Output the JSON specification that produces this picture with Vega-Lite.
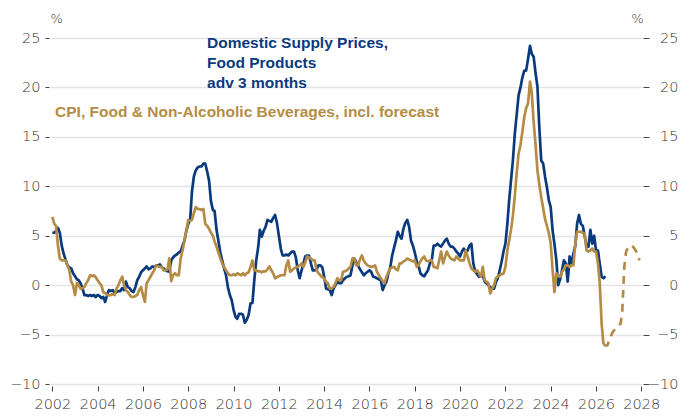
{
"$schema": "https://vega.github.io/schema/vega-lite/v6.json",
"width": 592,
"height": 346,
"autosize": {"type": "none"},
"padding": {"left": 50, "top": 38, "right": 55, "bottom": 34},
"background": "white",
"config": {"view": {"stroke": null}},
"datasets": {
"supply": [
{"month":"2002-01","value":5.3},{"month":"2002-02","value":5.3},{"month":"2002-03","value":5.5},{"month":"2002-04","value":5.8},{"month":"2002-05","value":5.3},{"month":"2002-06","value":4.0},{"month":"2002-07","value":3.2},{"month":"2002-08","value":2.6},{"month":"2002-09","value":2.0},{"month":"2002-10","value":1.8},{"month":"2002-11","value":1.7},{"month":"2002-12","value":1.2},
{"month":"2003-01","value":0.9},{"month":"2003-02","value":0.6},{"month":"2003-03","value":0.5},{"month":"2003-04","value":0.2},{"month":"2003-05","value":-0.3},{"month":"2003-06","value":-1.0},{"month":"2003-07","value":-1.0},{"month":"2003-08","value":-1.1},{"month":"2003-09","value":-1.0},{"month":"2003-10","value":-1.1},{"month":"2003-11","value":-1.0},{"month":"2003-12","value":-1.2},
{"month":"2004-01","value":-1.0},{"month":"2004-02","value":-1.1},{"month":"2004-03","value":-1.3},{"month":"2004-04","value":-1.2},{"month":"2004-05","value":-1.7},{"month":"2004-06","value":-1.0},{"month":"2004-07","value":-0.5},{"month":"2004-08","value":-0.6},{"month":"2004-09","value":-0.5},{"month":"2004-10","value":-0.8},{"month":"2004-11","value":-0.7},{"month":"2004-12","value":-0.6},
{"month":"2005-01","value":-0.6},{"month":"2005-02","value":-0.3},{"month":"2005-03","value":-0.5},{"month":"2005-04","value":0.35},{"month":"2005-05","value":-0.2},{"month":"2005-06","value":-0.3},{"month":"2005-07","value":-0.6},{"month":"2005-08","value":-0.7},{"month":"2005-09","value":-0.2},{"month":"2005-10","value":0.5},{"month":"2005-11","value":0.85},{"month":"2005-12","value":1.3},
{"month":"2006-01","value":1.5},{"month":"2006-02","value":1.7},{"month":"2006-03","value":1.9},{"month":"2006-04","value":1.6},{"month":"2006-05","value":1.7},{"month":"2006-06","value":1.9},{"month":"2006-07","value":1.8},{"month":"2006-08","value":2.0},{"month":"2006-09","value":2.0},{"month":"2006-10","value":2.1},{"month":"2006-11","value":1.8},{"month":"2006-12","value":1.7},
{"month":"2007-01","value":1.5},{"month":"2007-02","value":1.4},{"month":"2007-03","value":1.35},{"month":"2007-04","value":2.5},{"month":"2007-05","value":2.8},{"month":"2007-06","value":3.0},{"month":"2007-07","value":3.1},{"month":"2007-08","value":3.3},{"month":"2007-09","value":3.4},{"month":"2007-10","value":4.0},{"month":"2007-11","value":4.5},{"month":"2007-12","value":5.5},
{"month":"2008-01","value":6.2},{"month":"2008-02","value":6.6},{"month":"2008-03","value":9.5},{"month":"2008-04","value":11.0},{"month":"2008-05","value":11.6},{"month":"2008-06","value":11.9},{"month":"2008-07","value":12.0},{"month":"2008-08","value":12.0},{"month":"2008-09","value":12.3},{"month":"2008-10","value":12.3},{"month":"2008-11","value":11.5},{"month":"2008-12","value":10.6},
{"month":"2009-01","value":8.5},{"month":"2009-02","value":7.6},{"month":"2009-03","value":7.5},{"month":"2009-04","value":5.6},{"month":"2009-05","value":4.5},{"month":"2009-06","value":3.3},{"month":"2009-07","value":2.5},{"month":"2009-08","value":1.7},{"month":"2009-09","value":1.0},{"month":"2009-10","value":-0.2},{"month":"2009-11","value":-1.0},{"month":"2009-12","value":-1.5},
{"month":"2010-01","value":-2.5},{"month":"2010-02","value":-3.2},{"month":"2010-03","value":-3.4},{"month":"2010-04","value":-2.9},{"month":"2010-05","value":-2.9},{"month":"2010-06","value":-3.0},{"month":"2010-07","value":-3.8},{"month":"2010-08","value":-3.5},{"month":"2010-09","value":-3.0},{"month":"2010-10","value":-1.85},{"month":"2010-11","value":-1.8},{"month":"2010-12","value":0.5},
{"month":"2011-01","value":2.5},{"month":"2011-02","value":3.8},{"month":"2011-03","value":5.6},{"month":"2011-04","value":4.9},{"month":"2011-05","value":5.5},{"month":"2011-06","value":5.9},{"month":"2011-07","value":6.6},{"month":"2011-08","value":6.5},{"month":"2011-09","value":6.4},{"month":"2011-10","value":6.8},{"month":"2011-11","value":7.1},{"month":"2011-12","value":6.3},
{"month":"2012-01","value":5.0},{"month":"2012-02","value":3.7},{"month":"2012-03","value":3.0},{"month":"2012-04","value":3.0},{"month":"2012-05","value":3.1},{"month":"2012-06","value":3.0},{"month":"2012-07","value":3.2},{"month":"2012-08","value":3.4},{"month":"2012-09","value":3.4},{"month":"2012-10","value":2.8},{"month":"2012-11","value":1.5},{"month":"2012-12","value":0.7},
{"month":"2013-01","value":1.5},{"month":"2013-02","value":2.2},{"month":"2013-03","value":2.9},{"month":"2013-04","value":3.0},{"month":"2013-05","value":3.0},{"month":"2013-06","value":2.2},{"month":"2013-07","value":1.5},{"month":"2013-08","value":1.5},{"month":"2013-09","value":1.6},{"month":"2013-10","value":2.0},{"month":"2013-11","value":2.0},{"month":"2013-12","value":1.8},
{"month":"2014-01","value":0.85},{"month":"2014-02","value":-0.35},{"month":"2014-03","value":-0.4},{"month":"2014-04","value":-0.5},{"month":"2014-05","value":-1.0},{"month":"2014-06","value":-0.35},{"month":"2014-07","value":0.0},{"month":"2014-08","value":0.35},{"month":"2014-09","value":0.2},{"month":"2014-10","value":0.2},{"month":"2014-11","value":0.5},{"month":"2014-12","value":0.7},
{"month":"2015-01","value":0.85},{"month":"2015-02","value":0.9},{"month":"2015-03","value":1.0},{"month":"2015-04","value":2.0},{"month":"2015-05","value":2.7},{"month":"2015-06","value":2.3},{"month":"2015-07","value":2.0},{"month":"2015-08","value":1.6},{"month":"2015-09","value":1.3},{"month":"2015-10","value":1.0},{"month":"2015-11","value":1.2},{"month":"2015-12","value":1.35},
{"month":"2016-01","value":1.5},{"month":"2016-02","value":1.3},{"month":"2016-03","value":0.85},{"month":"2016-04","value":0.8},{"month":"2016-05","value":0.7},{"month":"2016-06","value":0.6},{"month":"2016-07","value":0.5},{"month":"2016-08","value":-0.5},{"month":"2016-09","value":0.0},{"month":"2016-10","value":0.35},{"month":"2016-11","value":1.2},{"month":"2016-12","value":1.8},
{"month":"2017-01","value":3.0},{"month":"2017-02","value":3.8},{"month":"2017-03","value":4.5},{"month":"2017-04","value":5.4},{"month":"2017-05","value":5.0},{"month":"2017-06","value":4.7},{"month":"2017-07","value":5.7},{"month":"2017-08","value":6.3},{"month":"2017-09","value":6.6},{"month":"2017-10","value":5.9},{"month":"2017-11","value":4.5},{"month":"2017-12","value":4.0},
{"month":"2018-01","value":3.3},{"month":"2018-02","value":2.4},{"month":"2018-03","value":2.0},{"month":"2018-04","value":1.2},{"month":"2018-05","value":1.0},{"month":"2018-06","value":0.9},{"month":"2018-07","value":1.2},{"month":"2018-08","value":1.5},{"month":"2018-09","value":2.2},{"month":"2018-10","value":2.5},{"month":"2018-11","value":4.0},{"month":"2018-12","value":4.0},
{"month":"2019-01","value":4.2},{"month":"2019-02","value":4.0},{"month":"2019-03","value":3.9},{"month":"2019-04","value":4.2},{"month":"2019-05","value":4.5},{"month":"2019-06","value":4.7},{"month":"2019-07","value":4.2},{"month":"2019-08","value":3.9},{"month":"2019-09","value":3.9},{"month":"2019-10","value":3.7},{"month":"2019-11","value":3.4},{"month":"2019-12","value":3.2},
{"month":"2020-01","value":2.9},{"month":"2020-02","value":3.4},{"month":"2020-03","value":3.7},{"month":"2020-04","value":3.4},{"month":"2020-05","value":3.5},{"month":"2020-06","value":4.0},{"month":"2020-07","value":4.2},{"month":"2020-08","value":2.2},{"month":"2020-09","value":1.35},{"month":"2020-10","value":1.1},{"month":"2020-11","value":0.85},{"month":"2020-12","value":0.9},
{"month":"2021-01","value":1.0},{"month":"2021-02","value":0.35},{"month":"2021-03","value":0.2},{"month":"2021-04","value":0.0},{"month":"2021-05","value":-0.2},{"month":"2021-06","value":-0.35},{"month":"2021-07","value":-0.35},{"month":"2021-08","value":0.3},{"month":"2021-09","value":0.7},{"month":"2021-10","value":1.5},{"month":"2021-11","value":2.4},{"month":"2021-12","value":3.4},
{"month":"2022-01","value":4.2},{"month":"2022-02","value":6.2},{"month":"2022-03","value":8.5},{"month":"2022-04","value":10.6},{"month":"2022-05","value":12.6},{"month":"2022-06","value":15.3},{"month":"2022-07","value":17.2},{"month":"2022-08","value":19.2},{"month":"2022-09","value":20.0},{"month":"2022-10","value":21.0},{"month":"2022-11","value":21.7},{"month":"2022-12","value":21.7},
{"month":"2023-01","value":22.9},{"month":"2023-02","value":24.2},{"month":"2023-03","value":23.4},{"month":"2023-04","value":23.1},{"month":"2023-05","value":21.5},{"month":"2023-06","value":20.1},{"month":"2023-07","value":16.0},{"month":"2023-08","value":12.6},{"month":"2023-09","value":12.3},{"month":"2023-10","value":11.0},{"month":"2023-11","value":9.9},{"month":"2023-12","value":8.6},
{"month":"2024-01","value":7.9},{"month":"2024-02","value":5.5},{"month":"2024-03","value":4.2},{"month":"2024-04","value":2.5},{"month":"2024-05","value":0.0},{"month":"2024-06","value":0.6},{"month":"2024-07","value":1.5},{"month":"2024-08","value":2.5},{"month":"2024-09","value":2.2},{"month":"2024-10","value":0.35},{"month":"2024-11","value":2.9},{"month":"2024-12","value":2.2},
{"month":"2025-01","value":3.2},{"month":"2025-02","value":4.0},{"month":"2025-03","value":6.2},{"month":"2025-04","value":7.1},{"month":"2025-05","value":6.2},{"month":"2025-06","value":6.0},{"month":"2025-07","value":5.0},{"month":"2025-08","value":3.9},{"month":"2025-09","value":3.9},{"month":"2025-10","value":5.6},{"month":"2025-11","value":4.2},{"month":"2025-12","value":5.0},
{"month":"2026-01","value":3.5},{"month":"2026-02","value":3.5},{"month":"2026-03","value":2.2},{"month":"2026-04","value":0.85},{"month":"2026-05","value":0.7},{"month":"2026-06","value":0.9}
],
"cpi": [
{"month":"2002-01","value":6.9},{"month":"2002-02","value":6.2},{"month":"2002-03","value":6.0},{"month":"2002-04","value":4.0},{"month":"2002-05","value":2.7},{"month":"2002-06","value":2.5},{"month":"2002-07","value":2.5},{"month":"2002-08","value":2.5},{"month":"2002-09","value":2.0},{"month":"2002-10","value":1.5},{"month":"2002-11","value":0.35},{"month":"2002-12","value":0.0},
{"month":"2003-01","value":-1.0},{"month":"2003-02","value":0.2},{"month":"2003-03","value":0.0},{"month":"2003-04","value":-0.35},{"month":"2003-05","value":-0.3},{"month":"2003-06","value":-0.2},{"month":"2003-07","value":0.2},{"month":"2003-08","value":0.5},{"month":"2003-09","value":1.0},{"month":"2003-10","value":0.9},{"month":"2003-11","value":1.0},{"month":"2003-12","value":0.8},
{"month":"2004-01","value":0.5},{"month":"2004-02","value":0.2},{"month":"2004-03","value":0.0},{"month":"2004-04","value":-0.7},{"month":"2004-05","value":-0.8},{"month":"2004-06","value":-1.0},{"month":"2004-07","value":-1.0},{"month":"2004-08","value":-1.0},{"month":"2004-09","value":-0.9},{"month":"2004-10","value":-1.0},{"month":"2004-11","value":-0.35},{"month":"2004-12","value":0.0},
{"month":"2005-01","value":0.5},{"month":"2005-02","value":0.85},{"month":"2005-03","value":0.0},{"month":"2005-04","value":-0.5},{"month":"2005-05","value":-0.7},{"month":"2005-06","value":-1.0},{"month":"2005-07","value":-1.2},{"month":"2005-08","value":-1.2},{"month":"2005-09","value":-1.1},{"month":"2005-10","value":-1.0},{"month":"2005-11","value":-0.5},{"month":"2005-12","value":-0.2},
{"month":"2006-01","value":-1.0},{"month":"2006-02","value":-1.7},{"month":"2006-03","value":0.2},{"month":"2006-04","value":0.5},{"month":"2006-05","value":0.85},{"month":"2006-06","value":1.2},{"month":"2006-07","value":1.5},{"month":"2006-08","value":2.0},{"month":"2006-09","value":1.9},{"month":"2006-10","value":1.85},{"month":"2006-11","value":1.85},{"month":"2006-12","value":1.5},
{"month":"2007-01","value":1.5},{"month":"2007-02","value":1.6},{"month":"2007-03","value":2.7},{"month":"2007-04","value":0.4},{"month":"2007-05","value":1.0},{"month":"2007-06","value":1.2},{"month":"2007-07","value":1.0},{"month":"2007-08","value":1.0},{"month":"2007-09","value":2.7},{"month":"2007-10","value":3.5},{"month":"2007-11","value":4.5},{"month":"2007-12","value":5.5},
{"month":"2008-01","value":6.6},{"month":"2008-02","value":6.5},{"month":"2008-03","value":6.6},{"month":"2008-04","value":7.3},{"month":"2008-05","value":7.9},{"month":"2008-06","value":7.7},{"month":"2008-07","value":7.7},{"month":"2008-08","value":7.6},{"month":"2008-09","value":7.7},{"month":"2008-10","value":6.2},{"month":"2008-11","value":6.0},{"month":"2008-12","value":5.7},
{"month":"2009-01","value":5.3},{"month":"2009-02","value":5.0},{"month":"2009-03","value":4.4},{"month":"2009-04","value":3.9},{"month":"2009-05","value":3.3},{"month":"2009-06","value":2.7},{"month":"2009-07","value":2.2},{"month":"2009-08","value":1.8},{"month":"2009-09","value":1.5},{"month":"2009-10","value":1.2},{"month":"2009-11","value":1.0},{"month":"2009-12","value":1.0},
{"month":"2010-01","value":1.1},{"month":"2010-02","value":1.0},{"month":"2010-03","value":1.2},{"month":"2010-04","value":1.1},{"month":"2010-05","value":1.0},{"month":"2010-06","value":1.2},{"month":"2010-07","value":1.0},{"month":"2010-08","value":1.2},{"month":"2010-09","value":1.3},{"month":"2010-10","value":1.85},{"month":"2010-11","value":2.5},{"month":"2010-12","value":1.5},
{"month":"2011-01","value":1.5},{"month":"2011-02","value":1.4},{"month":"2011-03","value":1.4},{"month":"2011-04","value":1.3},{"month":"2011-05","value":1.4},{"month":"2011-06","value":1.4},{"month":"2011-07","value":1.6},{"month":"2011-08","value":1.9},{"month":"2011-09","value":1.5},{"month":"2011-10","value":1.2},{"month":"2011-11","value":0.7},{"month":"2011-12","value":0.8},
{"month":"2012-01","value":0.9},{"month":"2012-02","value":1.0},{"month":"2012-03","value":1.0},{"month":"2012-04","value":1.0},{"month":"2012-05","value":2.0},{"month":"2012-06","value":2.5},{"month":"2012-07","value":1.35},{"month":"2012-08","value":1.5},{"month":"2012-09","value":1.7},{"month":"2012-10","value":1.8},{"month":"2012-11","value":1.85},{"month":"2012-12","value":2.0},
{"month":"2013-01","value":2.2},{"month":"2013-02","value":1.85},{"month":"2013-03","value":2.3},{"month":"2013-04","value":2.9},{"month":"2013-05","value":2.8},{"month":"2013-06","value":2.7},{"month":"2013-07","value":2.5},{"month":"2013-08","value":2.5},{"month":"2013-09","value":1.5},{"month":"2013-10","value":1.2},{"month":"2013-11","value":1.0},{"month":"2013-12","value":0.8},
{"month":"2014-01","value":0.7},{"month":"2014-02","value":0.3},{"month":"2014-03","value":0.2},{"month":"2014-04","value":-0.35},{"month":"2014-05","value":-0.3},{"month":"2014-06","value":-0.2},{"month":"2014-07","value":0.2},{"month":"2014-08","value":0.7},{"month":"2014-09","value":0.5},{"month":"2014-10","value":0.5},{"month":"2014-11","value":1.35},{"month":"2014-12","value":1.4},
{"month":"2015-01","value":1.5},{"month":"2015-02","value":1.7},{"month":"2015-03","value":1.85},{"month":"2015-04","value":2.7},{"month":"2015-05","value":2.7},{"month":"2015-06","value":2.0},{"month":"2015-07","value":2.0},{"month":"2015-08","value":2.6},{"month":"2015-09","value":3.0},{"month":"2015-10","value":2.5},{"month":"2015-11","value":2.2},{"month":"2015-12","value":2.0},
{"month":"2016-01","value":1.9},{"month":"2016-02","value":1.85},{"month":"2016-03","value":1.9},{"month":"2016-04","value":2.0},{"month":"2016-05","value":1.35},{"month":"2016-06","value":1.0},{"month":"2016-07","value":0.7},{"month":"2016-08","value":0.4},{"month":"2016-09","value":0.2},{"month":"2016-10","value":0.85},{"month":"2016-11","value":1.3},{"month":"2016-12","value":1.7},
{"month":"2017-01","value":1.8},{"month":"2017-02","value":1.85},{"month":"2017-03","value":1.6},{"month":"2017-04","value":1.5},{"month":"2017-05","value":2.2},{"month":"2017-06","value":2.2},{"month":"2017-07","value":2.4},{"month":"2017-08","value":2.5},{"month":"2017-09","value":2.7},{"month":"2017-10","value":2.6},{"month":"2017-11","value":2.5},{"month":"2017-12","value":2.4},
{"month":"2018-01","value":2.5},{"month":"2018-02","value":1.85},{"month":"2018-03","value":2.0},{"month":"2018-04","value":2.4},{"month":"2018-05","value":2.7},{"month":"2018-06","value":2.9},{"month":"2018-07","value":2.5},{"month":"2018-08","value":2.4},{"month":"2018-09","value":2.5},{"month":"2018-10","value":2.5},{"month":"2018-11","value":1.85},{"month":"2018-12","value":1.8},
{"month":"2019-01","value":1.7},{"month":"2019-02","value":2.6},{"month":"2019-03","value":3.4},{"month":"2019-04","value":2.2},{"month":"2019-05","value":2.8},{"month":"2019-06","value":3.4},{"month":"2019-07","value":3.0},{"month":"2019-08","value":2.7},{"month":"2019-09","value":2.6},{"month":"2019-10","value":2.5},{"month":"2019-11","value":2.9},{"month":"2019-12","value":2.7},
{"month":"2020-01","value":2.5},{"month":"2020-02","value":2.5},{"month":"2020-03","value":2.5},{"month":"2020-04","value":3.5},{"month":"2020-05","value":2.9},{"month":"2020-06","value":2.2},{"month":"2020-07","value":1.7},{"month":"2020-08","value":1.5},{"month":"2020-09","value":1.35},{"month":"2020-10","value":1.5},{"month":"2020-11","value":1.2},{"month":"2020-12","value":0.85},
{"month":"2021-01","value":1.85},{"month":"2021-02","value":0.5},{"month":"2021-03","value":0.35},{"month":"2021-04","value":0.2},{"month":"2021-05","value":-0.85},{"month":"2021-06","value":-0.35},{"month":"2021-07","value":0.0},{"month":"2021-08","value":0.7},{"month":"2021-09","value":0.9},{"month":"2021-10","value":1.0},{"month":"2021-11","value":1.1},{"month":"2021-12","value":1.2},
{"month":"2022-01","value":1.85},{"month":"2022-02","value":3.5},{"month":"2022-03","value":4.5},{"month":"2022-04","value":5.6},{"month":"2022-05","value":7.0},{"month":"2022-06","value":9.0},{"month":"2022-07","value":11.3},{"month":"2022-08","value":13.3},{"month":"2022-09","value":14.2},{"month":"2022-10","value":15.5},{"month":"2022-11","value":17.0},{"month":"2022-12","value":17.9},
{"month":"2023-01","value":18.4},{"month":"2023-02","value":20.6},{"month":"2023-03","value":19.5},{"month":"2023-04","value":16.5},{"month":"2023-05","value":14.3},{"month":"2023-06","value":11.6},{"month":"2023-07","value":10.2},{"month":"2023-08","value":8.9},{"month":"2023-09","value":7.8},{"month":"2023-10","value":6.7},{"month":"2023-11","value":6.0},{"month":"2023-12","value":5.3},
{"month":"2024-01","value":4.2},{"month":"2024-02","value":1.5},{"month":"2024-03","value":-0.7},{"month":"2024-04","value":1.2},{"month":"2024-05","value":0.9},{"month":"2024-06","value":0.85},{"month":"2024-07","value":1.35},{"month":"2024-08","value":1.6},{"month":"2024-09","value":2.0},{"month":"2024-10","value":2.0},{"month":"2024-11","value":1.85},{"month":"2024-12","value":2.0},
{"month":"2025-01","value":2.0},{"month":"2025-02","value":4.2},{"month":"2025-03","value":5.4},{"month":"2025-04","value":5.4},{"month":"2025-05","value":5.4},{"month":"2025-06","value":5.3},{"month":"2025-07","value":5.2},{"month":"2025-08","value":3.5},{"month":"2025-09","value":3.4},{"month":"2025-10","value":3.5},{"month":"2025-11","value":3.7},{"month":"2025-12","value":3.4},
{"month":"2026-01","value":3.4},{"month":"2026-02","value":2.2},{"month":"2026-03","value":0.3},{"month":"2026-04","value":-3.9},{"month":"2026-05","value":-6.0}
],
"forecast": [
{"month":"2026-05","value":-6.0},{"month":"2026-06","value":-6.1},{"month":"2026-07","value":-6.1},{"month":"2026-08","value":-5.6},{"month":"2026-09","value":-5.1},{"month":"2026-10","value":-4.7},{"month":"2026-11","value":-4.5},{"month":"2026-12","value":-4.3},
{"month":"2027-01","value":-4.1},{"month":"2027-02","value":-3.9},{"month":"2027-03","value":-2.5},{"month":"2027-04","value":1.8},{"month":"2027-05","value":3.4},{"month":"2027-06","value":3.8},{"month":"2027-07","value":4.0},{"month":"2027-08","value":4.0},{"month":"2027-09","value":3.8},{"month":"2027-10","value":3.5},{"month":"2027-11","value":3.2},{"month":"2027-12","value":2.5}
],
"supplyLabel": [{"month":"2008-10-30","value":23.94,"label":["Domestic Supply Prices,","Food Products","adv 3 months"]}],
"cpiLabel": [{"month":"2002-02-14","value":17.02,"label":"CPI, Food & Non-Alcoholic Beverages, incl. forecast"}]
},
"encoding": {
"x": {"field": "month", "type": "temporal",
"scale": {"domain": [{"year": 2001, "month": 11, "date": 24}, {"year": 2028, "month": 1, "date": 12}]},
"axis": {"orient": "bottom", "title": null, "format": "%Y", "tickCount": {"interval": "year", "step": 2},
"grid": false, "domain": false, "tickSize": 5, "tickColor": "#444", "tickWidth": 1, "offset": 2, "labelPadding": 6, "labelFont": "DejaVu Sans", "labelFontSize": 14.5, "labelFontWeight": 300, "labelColor": "#333", "labelFlush": false, "labelOverlap": false}}
},
"layer": [
{
"data": {"name": "supply"},
"mark": {"type": "line", "color": "#0a3a7e", "strokeWidth": 2.7, "strokeJoin": "round"},
"encoding": {
"y": {"field": "value", "type": "quantitative",
"scale": {"domain": [-10, 25], "nice": false, "zero": false},
"axis": {"orient": "left", "values": [-10, -5, 0, 5, 10, 15, 20, 25], "grid": true, "gridColor": "#e4e4e4", "gridWidth": 1.5, "domain": false, "tickSize": 4, "tickColor": "#444", "tickWidth": 1, "offset": 1, "labelPadding": 5, "labelFont": "DejaVu Sans", "labelFontSize": 14.5, "labelFontWeight": 300, "labelColor": "#333",
"title": "%", "titleAngle": 0, "titleAlign": "left", "titleBaseline": "middle", "titleX": 1, "titleY": -20, "titleFont": "DejaVu Sans", "titleFontSize": 13, "titleFontWeight": 300, "titleColor": "#333"}}
}
},
{
"data": {"name": "cpi"},
"mark": {"type": "line", "color": "#b58c46", "strokeWidth": 2.7, "strokeJoin": "round"},
"encoding": {
"y": {"field": "value", "type": "quantitative", "axis": null}
}
},
{
"data": {"name": "forecast"},
"mark": {"type": "line", "color": "#b58c46", "strokeWidth": 2.7, "strokeDash": [8, 6]},
"encoding": {
"y": {"field": "value", "type": "quantitative",
"axis": {"orient": "right", "values": [-10, -5, 0, 5, 10, 15, 20, 25], "grid": false, "domain": false, "tickSize": 6, "tickColor": "#444", "tickWidth": 1, "offset": 1, "labelAlign": "right", "labelPadding": 29, "labelFont": "DejaVu Sans", "labelFontSize": 14.5, "labelFontWeight": 300, "labelColor": "#333",
"title": "%", "titleAngle": 0, "titleAlign": "right", "titleBaseline": "middle", "titleX": 0, "titleY": -20, "titleFont": "DejaVu Sans", "titleFontSize": 13, "titleFontWeight": 300, "titleColor": "#333"}}
}
},
{
"data": {"name": "supplyLabel"},
"mark": {"type": "text", "align": "left", "baseline": "alphabetic", "font": "Liberation Sans", "fontWeight": "bold", "fontSize": 15.5, "lineHeight": 20, "color": "#0a3a7e"},
"encoding": {
"y": {"field": "value", "type": "quantitative", "axis": null},
"text": {"field": "label"}
}
},
{
"data": {"name": "cpiLabel"},
"mark": {"type": "text", "align": "left", "baseline": "alphabetic", "font": "Liberation Sans", "fontWeight": "bold", "fontSize": 15.5, "color": "#b58c46"},
"encoding": {
"y": {"field": "value", "type": "quantitative", "axis": null},
"text": {"field": "label"}
}
}
],
"resolve": {"scale": {"y": "shared"}, "axis": {"y": "independent"}}
}
